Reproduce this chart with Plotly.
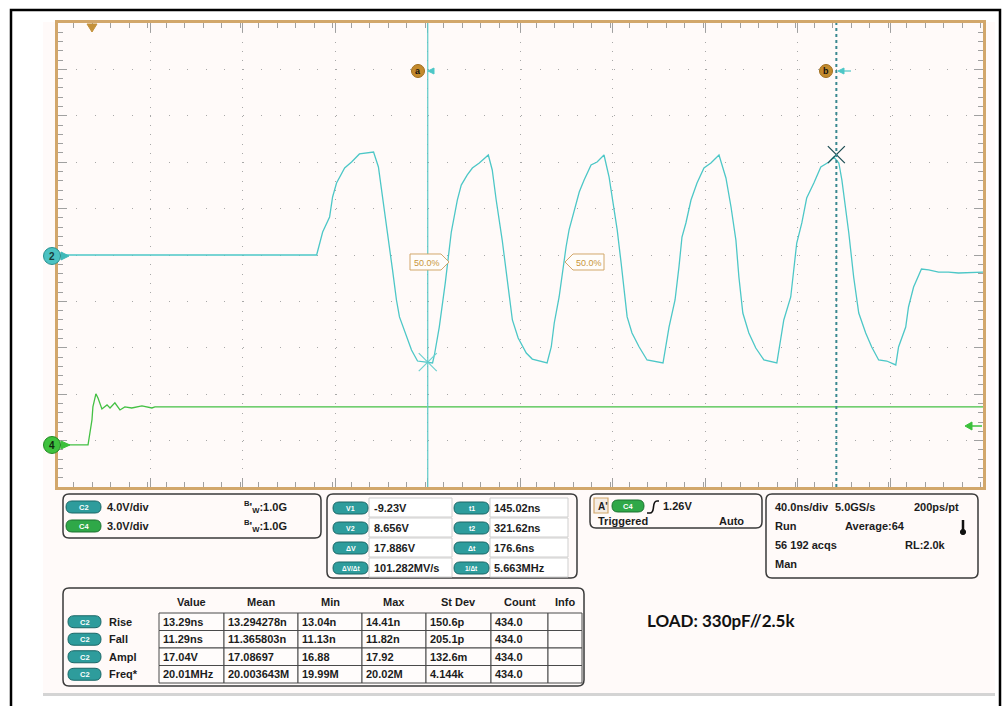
import plotly.graph_objects as go

W, H = 1008, 706

# ---- waveform data (time in ns, volts) ----
c2_t = [-15.0, 97.0, 99.6, 102.6, 103.9, 105.6, 109.1, 112.1, 115.5, 121.6,
        123.7, 125.5, 127.6, 129.8, 131.5, 132.8, 135.8, 138.0, 140.6, 144.0,
        147.1, 147.9, 150.0, 152.6, 153.9, 155.2, 157.8, 159.5, 162.1, 164.3,
        167.3, 171.2, 172.9, 174.6, 177.2, 179.4, 181.6, 184.1, 187.6, 190.2,
        196.6, 198.4, 199.7, 201.8, 203.1, 204.8, 206.1, 208.3, 210.5, 212.6,
        215.6, 218.2, 221.2, 223.4, 224.7, 226.9, 228.6, 229.9, 231.2, 233.3,
        236.4, 239.8, 243.7, 246.7, 249.3, 251.9, 253.6, 254.9, 256.6, 258.8,
        261.4, 264.4, 267.4, 270.9, 273.9, 276.1, 278.2, 279.5, 281.2, 283.8,
        286.8, 290.3, 295.9, 298.9, 301.9, 303.2, 304.5, 306.7, 308.8, 311.9,
        314.9, 318.4, 320.5, 322.7, 324.0, 327.0, 329.1, 331.3, 334.3, 336.9,
        339.9, 343.4, 347.3, 348.5, 351.6, 352.8, 355.0, 358.4, 361.5, 365.8,
        370.1, 374.4, 385.0]
c2_v = [0.0, 0.0, 1.98, 3.28, 5.0, 6.21, 7.5, 8.02, 8.71, 8.88,
        7.59, 4.74, 1.9, -1.29, -3.88, -5.34, -7.07, -8.19, -9.14, -9.22,
        -9.31, -8.62, -6.21, -2.41, -0.43, 1.98, 4.74, 6.03, 6.9, 7.5,
        7.93, 8.62, 7.33, 4.74, 1.29, -2.16, -5.6, -7.15, -8.45, -8.97,
        -9.31, -7.93, -5.86, -3.62, -1.55, 0.69, 2.16, 3.88, 5.43, 6.47,
        7.76, 8.02, 8.62, 6.72, 5.0, 2.16, -0.69, -3.02, -5.34, -6.72,
        -7.93, -9.05, -9.22, -9.31, -6.21, -3.88, -1.03, 1.55, 2.76, 4.74,
        6.21, 7.5, 7.93, 8.62, 6.64, 4.14, 1.29, -1.9, -5.0, -6.72,
        -8.02, -9.05, -9.31, -5.6, -3.62, -1.03, 1.03, 2.76, 4.91, 6.21,
        7.59, 8.02, 8.45, 7.93, 6.47, 1.9, -1.9, -5.0, -6.72, -7.93,
        -9.05, -9.14, -9.48, -7.93, -6.21, -4.48, -2.76, -1.21, -1.29, -1.47,
        -1.47, -1.55, -1.47]

c4_t = [-15.0, -1.8, -0.1, 0.3, 1.6, 2.5, 4.2, 6.4, 7.7, 9.8,
        12.0, 14.1, 17.1, 21.5, 25.8, 27.1, 385.0]
c4_v = [0.0, 0.0, 1.62, 2.46, 3.3, 3.04, 2.33, 2.59, 2.39, 2.72,
        2.26, 2.46, 2.39, 2.52, 2.39, 2.46, 2.46]

t_range = [-15.0, 385.0]
c2_range = [-20.0, 20.0]   # 4.0 V/div
c4_range = [-2.72, 27.28]  # 3.0 V/div

cursor_t = [145.02, 321.62]
cursor_v = [-9.23, 8.656]

# ---- readout panels ----
chan_names = ["C2", "C4"]
chan_scales = ["4.0V/div", "3.0V/div"]
chan_bw = ["1.0G", "1.0G"]

curs_left_names = ["V1", "V2", "ΔV", "ΔV/Δt"]
curs_left_vals = ["-9.23V", "8.656V", "17.886V", "101.282MV/s"]
curs_right_names = ["t1", "t2", "Δt", "1/Δt"]
curs_right_vals = ["145.02ns", "321.62ns", "176.6ns", "5.663MHz"]

meas_cols = ["Value", "Mean", "Min", "Max", "St Dev", "Count", "Info"]
meas_names = ["Rise", "Fall", "Ampl", "Freq*"]
meas_value = ["13.29ns", "11.29ns", "17.04V", "20.01MHz"]
meas_mean = ["13.294278n", "11.365803n", "17.08697", "20.003643M"]
meas_min = ["13.04n", "11.13n", "16.88", "19.99M"]
meas_max = ["14.41n", "11.82n", "17.92", "20.02M"]
meas_std = ["150.6p", "205.1p", "132.6m", "4.144k"]
meas_count = ["434.0", "434.0", "434.0", "434.0"]
meas_info = ["", "", "", ""]

load_label = "LOAD: 330pF//2.5k"

# ---- colours ----
SCREEN = "#FFFAF9"
TAN = "#D2A76B"
TEAL = "#4DC7C7"
GREEN = "#44C044"
FONT = "Liberation Sans"


def px(x):
    return x / W


def py(y):
    return 1 - y / H


def P(x, y):
    return f"{px(x):.5f},{py(y):.5f}"


shapes = []
anns = []


def rrect(x0, y0, x1, y1, r, line="#3a3a3a", width=1.5, fill=None, layer="above"):
    d = (f"M{P(x0 + r, y0)} L{P(x1 - r, y0)} Q{P(x1, y0)} {P(x1, y0 + r)} "
         f"L{P(x1, y1 - r)} Q{P(x1, y1)} {P(x1 - r, y1)} L{P(x0 + r, y1)} "
         f"Q{P(x0, y1)} {P(x0, y1 - r)} L{P(x0, y0 + r)} Q{P(x0, y0)} {P(x0 + r, y0)} Z")
    shapes.append(dict(type="path", xref="paper", yref="paper", path=d, layer=layer,
                       line=dict(color=line, width=width),
                       fillcolor=fill if fill else "rgba(0,0,0,0)"))


def rect(x0, y0, x1, y1, line="#555", width=1, fill=None, layer="above"):
    shapes.append(dict(type="rect", xref="paper", yref="paper", layer=layer,
                       x0=px(x0), x1=px(x1), y0=py(y1), y1=py(y0),
                       line=dict(color=line, width=width),
                       fillcolor=fill if fill else "rgba(0,0,0,0)"))


def poly(pts, fill, line=None, width=1):
    d = "M" + " L".join(P(x, y) for x, y in pts) + " Z"
    shapes.append(dict(type="path", xref="paper", yref="paper", path=d,
                       fillcolor=fill, line=dict(color=line or fill, width=width)))


def circle(cx, cy, r, fill, line):
    shapes.append(dict(type="circle", xref="paper", yref="paper",
                       x0=px(cx - r), x1=px(cx + r), y0=py(cy + r), y1=py(cy - r),
                       fillcolor=fill, line=dict(color=line, width=1)))


def text(x, y, s, size=11, color="#1c1c1c", anchor="left", bold=True, family=FONT):
    anns.append(dict(xref="paper", yref="paper", x=px(x), y=py(y), text=f"<b>{s}</b>" if bold else s,
                     showarrow=False, xanchor=anchor, yanchor="middle",
                     font=dict(family=family, size=size, color=color)))


def pill(x0, y0, x1, label, fill, edge, size=7.5):
    h = 12
    rrect(x0, y0, x1, y0 + h, h / 2, line=edge, width=1, fill=fill)
    text((x0 + x1) / 2, y0 + h / 2 + 0.5, label, size=size, color="white", anchor="center")


C2_FILL, C2_EDGE = "#2E9C9C", "#1A6767"
C4_FILL, C4_EDGE = "#2FA848", "#1C7230"

# ---- background / frame ----
rect(43, 22, 995, 693, line=SCREEN, width=0, fill=SCREEN, layer="below")
rect(43, 693, 995, 696, line="#D4D4D4", width=0, fill="#D4D4D4", layer="below")
rect(11, 10, 1000, 730, line="#000", width=2.5)

# ---- cursors ----
shapes.append(dict(type="line", xref="x", yref="paper", x0=cursor_t[0], x1=cursor_t[0],
                   y0=py(487), y1=py(23), line=dict(color="#5CC8C8", width=1.2)))
shapes.append(dict(type="line", xref="x", yref="paper", x0=cursor_t[1], x1=cursor_t[1],
                   y0=py(487), y1=py(23), line=dict(color="#3A8890", width=2, dash="dot")))

# cursor tags a / b
circle(418, 71, 6.5, "#C48A2C", "#A06E1E")
text(418, 71.5, "a", size=9, color="#111", anchor="center")
poly([(428, 71), (434, 68), (434, 74)], "#4DC7C7")
circle(826, 71, 6.5, "#C48A2C", "#A06E1E")
text(826, 71.5, "b", size=9, color="#111", anchor="center")
poly([(838, 71), (844, 68), (844, 74)], "#4DC7C7")
shapes.append(dict(type="line", xref="paper", yref="paper", x0=px(843), x1=px(851),
                   y0=py(71), y1=py(71), line=dict(color="#4DC7C7", width=1.2)))

# trigger position marker
poly([(87, 24), (97, 24), (92, 32)], "#C4913A")

# ground markers
poly([(61, 252), (69, 256), (61, 260)], "#3FB9B9")
circle(52, 256, 8.5, "#4BC2C2", "#2A8F8F")
text(52, 256.5, "2", size=10, color="#183c3c", anchor="center")
poly([(61, 441), (70, 445), (61, 449)], "#3CC03C")
circle(52, 445, 8.5, "#3EC23E", "#248A24")
text(52, 445.5, "4", size=10, color="#102a10", anchor="center")

# trigger level arrow (C4 at 1.26 V)
poly([(965, 426), (972, 422), (972, 430)], "#3CC03C")
shapes.append(dict(type="line", xref="paper", yref="paper", x0=px(971), x1=px(982),
                   y0=py(426), y1=py(426), line=dict(color="#3CC03C", width=1.5)))

# 50 % reference labels
poly([(410, 254), (441, 254), (449, 262), (441, 270), (410, 270)], "#FFFDFB", TAN, 1)
text(427, 262.5, "50.0%", size=9, color="#C8963C", anchor="center", bold=False)
poly([(565, 262), (573, 254), (604, 254), (604, 270), (573, 270)], "#FFFDFB", TAN, 1)
text(589, 262.5, "50.0%", size=9, color="#C8963C", anchor="center", bold=False)

# ---- panel 1: channel setup ----
rrect(63, 494, 321, 538, 6)
for i, (nm, sc, bw) in enumerate(zip(chan_names, chan_scales, chan_bw)):
    cy = 507 + i * 19
    fill, edge = (C2_FILL, C2_EDGE) if nm == "C2" else (C4_FILL, C4_EDGE)
    pill(66, cy - 6, 101, nm, fill, edge)
    text(105, cy, sc)
    text(242, cy, f"<sup>B</sup>'<sub>W</sub>:{bw}")

# ---- panel 2: cursor readout ----
rrect(327, 494, 577, 578, 6)
for i in range(4):
    y0 = 498 + i * 20
    cy = y0 + 10
    rect(369, y0, 452, y0 + 19, line="#CFCFCF", width=1, fill="#FFFFFF")
    rect(490, y0, 568, y0 + 19, line="#CFCFCF", width=1, fill="#FFFFFF")
    pill(333, cy - 6, 368, curs_left_names[i], C2_FILL, C2_EDGE, size=7 if i < 3 else 6.5)
    pill(454, cy - 6, 489, curs_right_names[i], C2_FILL, C2_EDGE, size=7 if i < 3 else 6.5)
    text(372, cy, curs_left_vals[i])
    text(492, cy, curs_right_vals[i])

# ---- panel 3: trigger ----
rrect(590, 494, 762, 528, 6)
rect(594, 498, 608, 513, line=TAN, width=1.2, fill="#F4ECE4")
text(596, 506, "A'", size=10, anchor="left")
pill(612, 500, 644, "C4", C4_FILL, C4_EDGE)
shapes.append(dict(type="path", xref="paper", yref="paper", line=dict(color="#111", width=1.6),
                   path=f"M{P(647, 513)} L{P(650, 513)} Q{P(653, 513)} {P(653.5, 507)} "
                        f"Q{P(654, 501)} {P(657, 501)} L{P(659, 501)}"))
text(661, 506, "1.26V")
text(596, 521, "Triggered")
text(717, 521, "Auto")

# ---- panel 4: timebase ----
rrect(766, 494, 978, 578, 6)
text(773, 507, "40.0ns/div")
text(833, 507, "5.0GS/s")
text(912, 507, "200ps/pt")
text(773, 526, "Run")
text(843, 526, "Average:64")
text(773, 545, "56 192 acqs")
text(903, 545, "RL:2.0k")
text(773, 564, "Man")
shapes.append(dict(type="line", xref="paper", yref="paper", x0=px(963), x1=px(963),
                   y0=py(520), y1=py(531), line=dict(color="#111", width=2.5)))
circle(963, 532, 2.6, "#111", "#111")

# ---- measurement table ----
rrect(63, 588, 584, 686, 6)
col_x = [159, 224, 298, 362, 426, 491, 548, 582]
row_y = [613, 630.5, 648, 665.5, 683]
for j, c in enumerate(meas_cols):
    text((col_x[j] + col_x[j + 1]) / 2, 602, c, anchor="center")
cols = [meas_value, meas_mean, meas_min, meas_max, meas_std, meas_count, meas_info]
for i, nm in enumerate(meas_names):
    y0, y1 = row_y[i], row_y[i + 1]
    cy = (y0 + y1) / 2
    pill(68, cy - 6, 101, "C2", C2_FILL, C2_EDGE)
    text(107, cy, nm)
    for j, col in enumerate(cols):
        rect(col_x[j], y0, col_x[j + 1], y1, line="#4a4a4a", width=1, fill="#FFFCFB")
        if col[i]:
            text(col_x[j] + 2, cy, col[i])

text(645, 620, load_label, size=17, color="#111", family="Lato")

# ---- traces ----
fig = go.Figure()
fig.add_trace(go.Scatter(x=c4_t, y=c4_v, yaxis="y2", mode="lines",
                         line=dict(color=GREEN, width=1.3), hoverinfo="skip"))
fig.add_trace(go.Scatter(x=c2_t, y=c2_v, mode="lines",
                         line=dict(color=TEAL, width=1.3), hoverinfo="skip"))
fig.add_trace(go.Scatter(x=[cursor_t[0]], y=[cursor_v[0]], mode="markers",
                         marker=dict(symbol="x-thin", size=18, line=dict(width=1.2, color="#6FD0D0")),
                         hoverinfo="skip"))
fig.add_trace(go.Scatter(x=[cursor_t[1]], y=[cursor_v[1]], mode="markers",
                         marker=dict(symbol="x-thin", size=17, line=dict(width=1.3, color="#1F4F55")),
                         hoverinfo="skip"))

axis_common = dict(showline=True, linecolor=TAN, linewidth=3, mirror="ticks",
                   ticks="inside", ticklen=9, tickwidth=1, tickcolor="#A0A0A0",
                   showticklabels=False, zeroline=False, showgrid=True,
                   gridcolor="#A8A8A8", gridwidth=1)

fig.update_layout(
    width=W, height=H, autosize=False,
    margin=dict(l=0, r=0, t=0, b=0),
    paper_bgcolor="white", plot_bgcolor=SCREEN,
    showlegend=False, hovermode=False,
    xaxis=dict(domain=[57.5 / W, 983 / W], range=t_range, dtick=40, tick0=t_range[0],
               griddash="1px,8.28px",
               minor=dict(ticks="inside", ticklen=5, dtick=8, tickcolor="#A0A0A0", showgrid=False),
               **axis_common),
    yaxis=dict(domain=[1 - 487 / H, 1 - 23 / H], range=c2_range, dtick=4, tick0=c2_range[0],
               griddash="1px,17.54px",
               minor=dict(ticks="inside", ticklen=5, dtick=0.8, tickcolor="#A0A0A0", showgrid=False),
               **axis_common),
    yaxis2=dict(overlaying="y", range=c4_range, visible=False, showgrid=False),
    shapes=shapes,
    annotations=anns,
)

# the page's default body margin would shift the fixed-size figure by 8px
fig.write_html("out.html", config={"displayModeBar": False},
               post_script="document.body.style.margin='0';")
